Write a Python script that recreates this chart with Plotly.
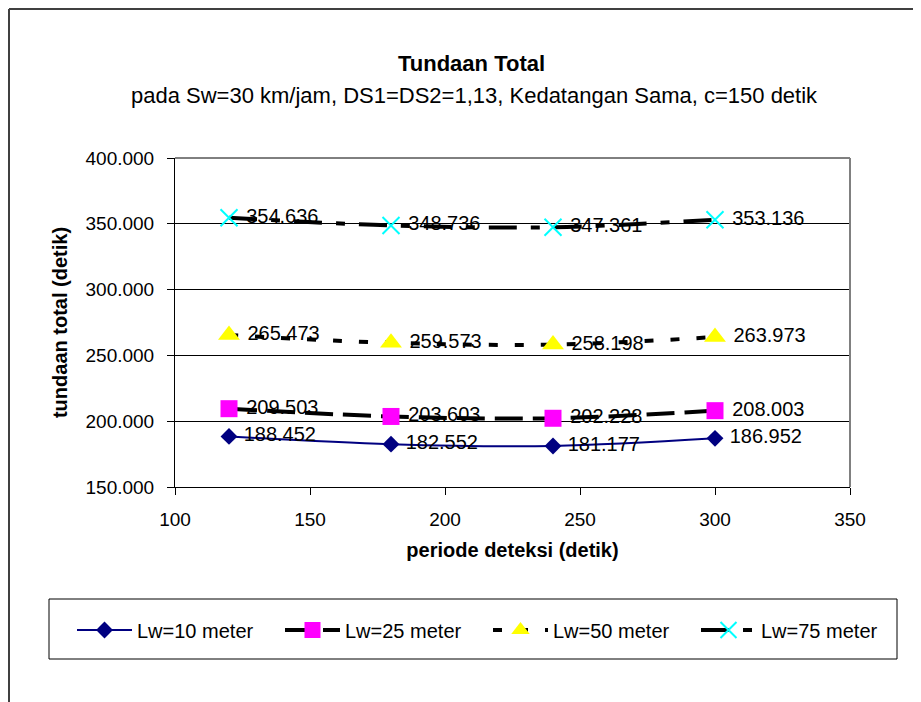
import plotly.graph_objects as go

# periode deteksi (detik)
periode = [120, 180, 240, 300]

lw10 = [188.452, 182.552, 181.177, 186.952]
lw25 = [209.503, 203.603, 202.228, 208.003]
lw50 = [265.473, 259.573, 258.198, 263.973]
lw75 = [354.636, 348.736, 347.361, 353.136]

y_ticks = [150, 200, 250, 300, 350, 400]
y_ticktext = ["150.000", "200.000", "250.000", "300.000", "350.000", "400.000"]
x_ticks = [100, 150, 200, 250, 300, 350]

FONT = "Liberation Sans, Arial, sans-serif"

# page has an 8px body margin, so the figure is a bit smaller than the window
OFF = 8
W, H = 913, 694
L, T = 167, 150
R, B = 71, 215
PW, PH = W - L - R, H - T - B


def px(x):
    # page pixel -> paper x
    return (x - OFF - L) / PW


def py(y):
    # page pixel -> paper y
    return (T + PH - (y - OFF)) / PH


def lbl(vals):
    return [" %.3f" % v for v in vals]


series = [
    ("Lw=10 meter", lw10, dict(color="#000080", width=2), dict(symbol="diamond", size=13, color="#000080")),
    ("Lw=25 meter", lw25, dict(color="black", width=4, dash="28px,10px"),
     dict(symbol="square", size=17, color="#ff00ff")),
    ("Lw=50 meter", lw50, dict(color="black", width=4, dash="9px,17px"),
     dict(symbol="triangle-up", size=19, color="#ffff00")),
    ("Lw=75 meter", lw75, dict(color="black", width=4, dash="28px,14px,9px,14px"),
     dict(symbol="x-thin", size=17, color="#00ffff", line=dict(color="#00ffff", width=2))),
]

fig = go.Figure()
for name, vals, line, marker in series:
    fig.add_trace(go.Scatter(
        x=periode, y=vals, name=name, mode="lines+markers+text",
        line=dict(shape="spline", **line), marker=marker,
        text=lbl(vals), textposition="middle right",
        textfont=dict(family=FONT, size=20, color="black"),
    ))

fig.update_layout(
    width=W, height=H,
    margin=dict(l=L, r=R, t=T, b=B),
    paper_bgcolor="white", plot_bgcolor="white",
    font=dict(family=FONT, size=19, color="black"),
    showlegend=True,
    legend=dict(orientation="h", x=px(72), y=py(630), xanchor="left", yanchor="middle",
                font=dict(family=FONT, size=20), itemwidth=55,
                entrywidth=138, entrywidthmode="pixels",
                bgcolor="rgba(0,0,0,0)"),
    annotations=[
        dict(text="<b>Tundaan Total</b>", x=px(471), y=py(64), xref="paper", yref="paper",
             xanchor="center", yanchor="middle", showarrow=False, font=dict(size=22)),
        dict(text="pada Sw=30 km/jam, DS1=DS2=1,13, Kedatangan Sama, c=150 detik",
             x=px(474), y=py(95), xref="paper", yref="paper", xanchor="center", yanchor="middle",
             showarrow=False, font=dict(size=22)),
    ],
    shapes=[
        # outer chart border
        dict(type="line", xref="paper", yref="paper", x0=px(9), x1=px(9), y0=py(9), y1=py(702),
             line=dict(color="#404040", width=2)),
        dict(type="line", xref="paper", yref="paper", x0=px(9), x1=px(921), y0=py(9), y1=py(9),
             line=dict(color="#404040", width=2)),
        # plot area top / right
        dict(type="line", xref="paper", yref="paper", x0=0, x1=1, y0=1, y1=1,
             line=dict(color="black", width=1)),
        dict(type="line", xref="paper", yref="paper", x0=1, x1=1, y0=0, y1=1,
             line=dict(color="#808080", width=2)),
        # legend box
        dict(type="rect", xref="paper", yref="paper", x0=px(49), x1=px(897), y0=py(599), y1=py(659),
             line=dict(color="black", width=1)),
    ],
)

fig.update_xaxes(
    range=[100, 350], tickvals=x_ticks, showgrid=False, zeroline=False,
    showline=True, linecolor="black", linewidth=1,
    ticks="outside", ticklen=7, tickcolor="black", ticklabelstandoff=8,
    tickfont=dict(size=19),
    title=dict(text="<b>periode deteksi (detik)</b>", font=dict(size=20), standoff=14),
)
fig.update_yaxes(
    range=[150, 400], tickvals=y_ticks, ticktext=y_ticktext,
    showgrid=True, gridcolor="black", gridwidth=1, zeroline=False,
    showline=True, linecolor="black", linewidth=1,
    ticks="outside", ticklen=7, tickcolor="black", ticklabelstandoff=9,
    tickfont=dict(size=19),
    title=dict(text="<b>tundaan total (detik)</b>", font=dict(size=20), standoff=12),
)

fig.write_html("out.html")
